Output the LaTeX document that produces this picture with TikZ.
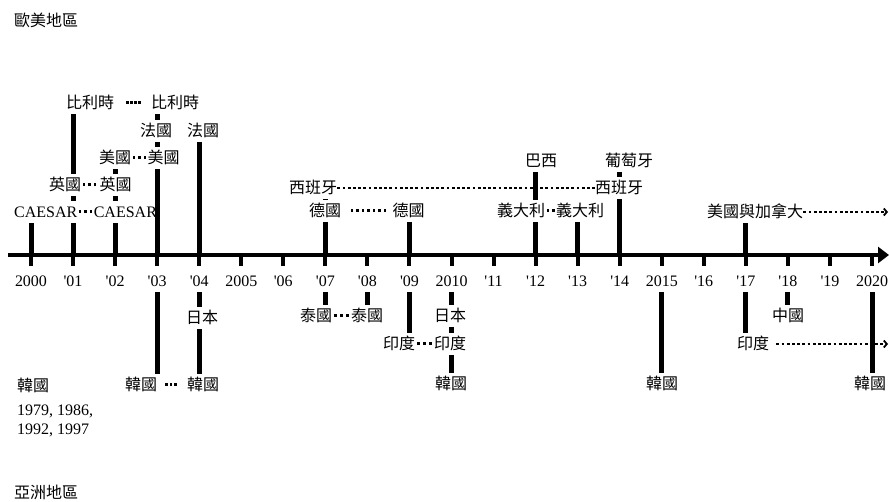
\documentclass[tikz,border=0pt]{standalone}
\usepackage{fontspec}
\setmainfont{Liberation Serif}
\newfontfamily\cjk{Noto Sans CJK TC}
\usetikzlibrary{arrows.meta}
\pgfdeclarelayer{bg}
\pgfsetlayers{bg,main}
\newcommand\mydot[1][5.5pt]{\makebox[#1]{\rule[4.8pt]{2.8pt}{2.8pt}}}
\newcommand\yq{\textquotesingle}
\begin{document}
\begin{tikzpicture}[x=1pt,y=-1pt,
  lbl/.style={font=\cjk\fontsize{16}{18}\selectfont, fill=white, inner xsep=0pt, inner ysep=3pt, text height=14pt, text depth=2pt, anchor=west},
  lat/.style={lbl, font=\fontsize{16}{18}\selectfont},
  yr/.style={font=\fontsize{16}{18}\selectfont, inner xsep=0pt, inner ysep=3pt, text height=14pt, text depth=2pt},
  bar/.style={line width=5pt},
  tickmark/.style={line width=4pt},
  axis/.style={line width=4.5pt, -{Triangle[length=11pt,width=16pt]}},
  dotline/.style={line width=2.7pt, dash pattern=on 2.7pt off 2.5pt},
  dotarrow/.style={dotline, -{Straight Barb[length=3pt,width=7pt,line width=1.8pt]}},
]
\useasboundingbox (0,0) rectangle (889,502);

% years
\foreach \i/\lab in {0/2000,1/\yq01,2/\yq02,3/\yq03,4/\yq04,5/2005,6/\yq06,7/\yq07,8/\yq08,9/\yq09,10/2010,11/\yq11,12/\yq12,13/\yq13,14/\yq14,15/2015,16/\yq16,17/\yq17,18/\yq18,19/\yq19,20/2020}{
  \coordinate (t\i) at ({31+42.05*\i},255);
  \node[yr] (y\i) at ({31+42.05*\i},281) {\lab};
}
\coordinate (axstart) at (8,255);
\coordinate (axend) at (889,255);

% region titles
\node[lbl, fill=none] (eu) at (14,21) {歐美地區};
\node[lbl, fill=none] (as) at (14,492) {亞洲地區};

% upper labels
\node[lbl] (be) at (66,103) {比利時\hspace{11pt}\mydot[4pt]\mydot[4pt]\mydot[4pt]\mydot[4pt]\hspace{10pt}比利時};
\node[lat] (cae) at (14,212) {CAESAR\mydot\mydot\mydot CAESAR};
\draw[bar] (t3) -- (t3 |- be.south);
\node[lbl] (fr1) at (140,131) {法國};
\node[lbl] (fr2) at (187,131) {法國};
\node[lbl] (us) at (99,158) {美國\mydot\mydot\mydot 美國};
\node[lbl] (uk) at (49,185) {英國\mydot\mydot\mydot\kern2pt 英國};
\node[lbl] (es1) at (289,188) {西班牙};
\node[lbl] (es2) at (595,188) {西班牙};
\node[lbl] (de) at (309,211) {德國\hspace{8pt}\mydot\mydot\mydot\mydot\mydot\mydot\mydot\hspace{5pt}德國};
\node[lbl] (br) at (525,161) {巴西};
\node[lbl] (it) at (497,211) {義大利\mydot\mydot 義大利};
\node[lbl] (pt) at (605,161) {葡萄牙};
\node[lbl] (na) at (707,212) {美國與加拿大};
\coordinate (naend) at (888,212);

% lower labels
\node[lbl] (jp1) at (186,318) {日本};
\node[lbl] (kr1) at (125,385) {韓國\hspace{7pt}\mydot[4.5pt]\mydot[4.5pt]\mydot[4.5pt]\hspace{9.5pt}韓國};
\node[lbl, fill=none] (kr0) at (17,386) {韓國};
\node[lat, fill=none] (kry1) at (17,410) {1979, 1986,};
\node[lat, fill=none] (kry2) at (17,429) {1992, 1997};
\node[lbl] (th) at (300,316) {泰國\mydot[6pt]\mydot[6pt]\mydot[6pt]\kern1pt 泰國};
\node[lbl] (in1) at (383,344) {印度\mydot[6pt]\mydot[6pt]\mydot[6pt]\kern1pt 印度};
\node[lbl] (jp2) at (434,316) {日本};
\node[lbl] (kr2) at (435,384) {韓國};
\node[lbl] (kr3) at (646,384) {韓國};
\node[lbl] (in2) at (737,344) {印度};
\node[lbl] (cn) at (772,316) {中國};
\node[lbl] (kr4) at (854,384) {韓國};
\coordinate (inend) at (888,344);

\begin{pgfonlayer}{bg}
  \draw[dotline] (es1.east) -- (es2.west);
  \draw[dotarrow] (na.east) -- (naend);
  \draw[dotarrow, shorten <=7pt] (in2.east) -- (inend);
  \draw[axis] (axstart) -- (axend);
  \foreach \i in {0,...,20}{\draw[tickmark] (t\i) -- ++(0,11);}
  % upper bars
  \draw[bar] (t0) -- (t0 |- cae.south);
  \draw[bar] (t1) -- (t1 |- be.south);
  \draw[bar] (t2) -- (t2 |- us.south);
  \draw[bar] (t4) -- (t4 |- fr2.south);
  \draw[bar] (t7) -- (t7 |- es1.south);
  \draw[bar] (t9) -- (t9 |- de.south);
  \draw[bar] (t12) -- (t12 |- br.south);
  \draw[bar] (t13) -- (t13 |- it.south);
  \draw[bar] (t14) -- (t14 |- pt.south);
  \draw[bar] (t17) -- (t17 |- na.south);
  % lower bars
  \draw[bar] (y3.south) -- (y3.south |- kr1.north);
  \draw[bar] (y4.south) -- (y4.south |- kr1.north);
  \draw[bar] (y7.south) -- (y7.south |- th.north);
  \draw[bar] (y8.south) -- (y8.south |- th.north);
  \draw[bar] (y9.south) -- (y9.south |- in1.north);
  \draw[bar] (y10.south) -- (y10.south |- kr2.north);
  \draw[bar] (y15.south) -- (y15.south |- kr3.north);
  \draw[bar] (y17.south) -- (y17.south |- in2.north);
  \draw[bar] (y18.south) -- (y18.south |- cn.north);
  \draw[bar] (y20.south) -- (y20.south |- kr4.north);
\end{pgfonlayer}
\end{tikzpicture}
\end{document}
